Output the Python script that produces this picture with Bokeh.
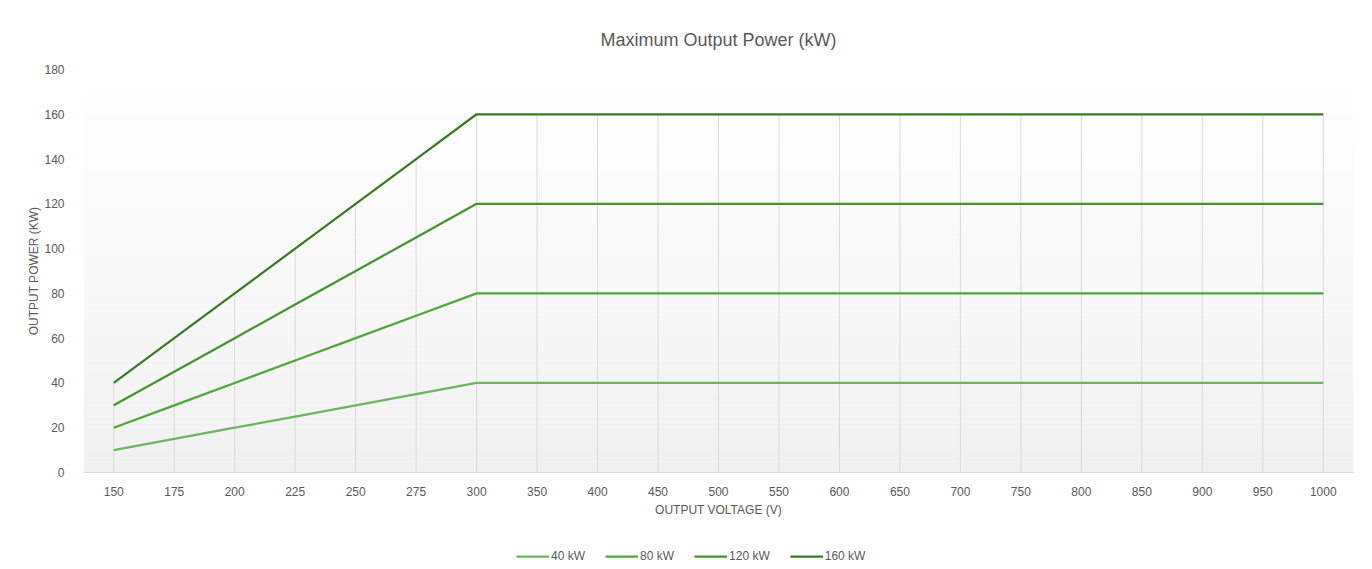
from bokeh.plotting import figure
from bokeh.models import ColumnDataSource, Legend, LegendItem, BoxAnnotation, FactorRange, Range1d, Title
from bokeh.layouts import column
from bokeh.embed import file_html
from bokeh.resources import INLINE

voltages = ["150", "175", "200", "225", "250", "275", "300", "350", "400", "450", "500",
            "550", "600", "650", "700", "750", "800", "850", "900", "950", "1000"]
p40 = [10, 15, 20, 25, 30, 35] + [40] * 15
p80 = [20, 30, 40, 50, 60, 70] + [80] * 15
p120 = [30, 45, 60, 75, 90, 105] + [120] * 15
p160 = [40, 60, 80, 100, 120, 140] + [160] * 15
series_names = ["40 kW", "80 kW", "120 kW", "160 kW"]
colors = ["#6cb660", "#4ea83a", "#43962e", "#3b7a24"]
y_ticks = [0, 20, 40, 60, 80, 100, 120, 140, 160, 180]

FONT = "Liberation Sans"
GREY = "#595959"

p = figure(width=1366, height=529, x_range=FactorRange(factors=voltages, range_padding=0),
           y_range=Range1d(0, 180), output_backend="svg", toolbar_location=None,
           min_border_left=83, min_border_right=13, min_border_top=69, min_border_bottom=57)
p.outline_line_color = None
p.background_fill_color = "#ffffff"
p.border_fill_color = "#ffffff"

# gradient background
nb = 36
for i in range(nb):
    t = i / (nb - 1)
    c = int(round(0xf1 + (0xff - 0xf1) * t))
    col = "#%02x%02x%02x" % (c, c, c)
    p.add_layout(BoxAnnotation(bottom=180 * i / nb, top=180 * (i + 1) / nb,
                               fill_color=col, fill_alpha=1.0, line_color=None, level="underlay"))

p.title = Title(text="Maximum Output Power (kW)", align="center", text_font=FONT,
                text_font_size="18px", text_color=GREY, text_font_style="normal", standoff=40)

# drop lines
src = ColumnDataSource(dict(x=voltages, y0=[0] * len(voltages), y1=[max(a, b, c, d) for a, b, c, d in zip(p40, p80, p120, p160)]))
p.segment(x0="x", y0="y0", x1="x", y1="y1", source=src, line_color="#d9d9d9", line_width=1)

for vals, col in zip([p40, p80, p120, p160], colors):
    p.line(voltages, vals, line_color=col, line_width=2.25)

p.xgrid.visible = False
p.ygrid.visible = False

p.xaxis.axis_line_color = "#d9d9d9"
p.xaxis.major_tick_line_color = None
p.xaxis.minor_tick_line_color = None
p.xaxis.major_label_text_font = FONT
p.xaxis.major_label_text_font_size = "12px"
p.xaxis.major_label_text_color = GREY
p.xaxis.major_label_standoff = 8
p.xaxis.axis_label = "OUTPUT VOLTAGE (V)"
p.xaxis.axis_label_text_font = FONT
p.xaxis.axis_label_text_font_size = "12px"
p.xaxis.axis_label_text_font_style = "normal"
p.xaxis.axis_label_text_color = GREY
p.xaxis.axis_label_standoff = 4

p.yaxis.ticker = y_ticks
p.yaxis.axis_line_color = None
p.yaxis.major_tick_line_color = None
p.yaxis.minor_tick_line_color = None
p.yaxis.major_label_text_font = FONT
p.yaxis.major_label_text_font_size = "12px"
p.yaxis.major_label_text_color = GREY
p.yaxis.major_label_standoff = 13
p.yaxis.axis_label = "OUTPUT POWER (KW)"
p.yaxis.axis_label_text_font = FONT
p.yaxis.axis_label_text_font_size = "12px"
p.yaxis.axis_label_text_font_style = "normal"
p.yaxis.axis_label_text_color = GREY
p.yaxis.axis_label_standoff = 0

# legend strip (lines drawn out of view; only the legend shows)
p2 = figure(width=1366, height=40, x_range=FactorRange(factors=voltages), y_range=Range1d(1000, 1001),
            output_backend="svg", toolbar_location=None,
            min_border_left=0, min_border_right=0, min_border_top=0, min_border_bottom=0)
p2.axis.visible = False
p2.grid.visible = False
p2.outline_line_color = None
p2.background_fill_color = "#ffffff"
p2.border_fill_color = "#ffffff"
items = []
for name, vals, col in zip(series_names, [p40, p80, p120, p160], colors):
    r = p2.line(voltages, vals, line_color=col, line_width=2.25)
    items.append(LegendItem(label=name, renderers=[r]))
legend = Legend(items=items, orientation="horizontal", location=(433, 3),
                label_text_font=FONT, label_text_font_size="12px", label_text_color=GREY,
                glyph_width=33, label_standoff=2, spacing=20, border_line_color=None,
                background_fill_alpha=0, margin=0, padding=2)
p2.add_layout(legend, "center")

layout = column(p, p2, spacing=0)
open("out.html", "w").write(file_html(layout, INLINE))
